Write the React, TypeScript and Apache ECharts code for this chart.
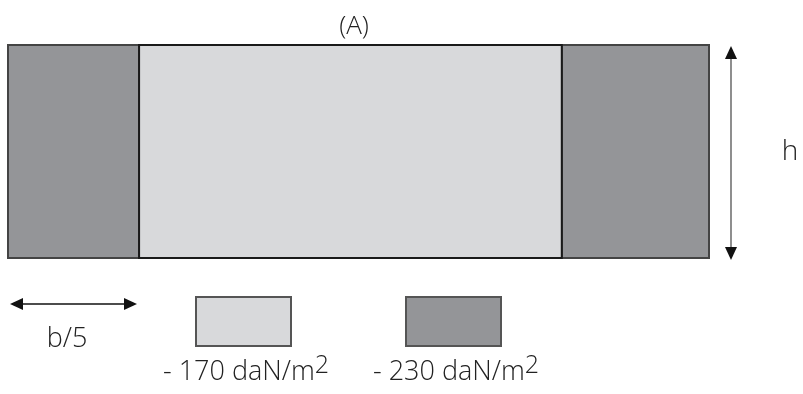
import React, { useEffect, useRef } from "react";
import * as echarts from "echarts";

// zones across width b (fraction of b), with load in daN/m2
const zoneStart = [0, 0.187, 0.79];
const zoneEnd = [0.187, 0.79, 1];
const zoneLoad = [230, 170, 230];
const legendLoads = [170, 230];
const title = "(A)";
const heightLabel = "h";
const widthLabel = "b/5";

const LIGHT = "#d8d9db";
const DARK = "#949598";

export default function App() {
  const ref = useRef<HTMLDivElement>(null);
  useEffect(() => {
    const chart = echarts.init(ref.current!, null, { renderer: "svg" });
    const fam = "'Open Sans', 'DejaVu Sans', sans-serif";
    const data = zoneStart.map((s, i) => [s, zoneEnd[i], zoneLoad[i]]);
    // draw dark ones first, light on top
    data.sort((a, b) => b[2] - a[2]);
    const arrowH = (x1: number, x2: number, y: number) => [
      { type: "line", shape: { x1: x1 + 10, y1: y, x2: x2 - 10, y2: y }, style: { stroke: "#111", lineWidth: 1.5 } },
      { type: "polygon", shape: { points: [[x1, y], [x1 + 13, y - 6], [x1 + 13, y + 6]] }, style: { fill: "#111" } },
      { type: "polygon", shape: { points: [[x2, y], [x2 - 13, y - 6], [x2 - 13, y + 6]] }, style: { fill: "#111" } },
    ];
    const arrowV = (x: number, y1: number, y2: number) => [
      { type: "line", shape: { x1: x, y1: y1 + 10, x2: x, y2: y2 - 10 }, style: { stroke: "#444", lineWidth: 1.2 } },
      { type: "polygon", shape: { points: [[x, y1], [x - 6, y1 + 13], [x + 6, y1 + 13]] }, style: { fill: "#111" } },
      { type: "polygon", shape: { points: [[x, y2], [x - 6, y2 - 13], [x + 6, y2 - 13]] }, style: { fill: "#111" } },
    ];
    const legendBoxes = [
      { x: 196, fill: LIGHT, load: legendLoads[0], tx: 163 },
      { x: 406, fill: DARK, load: legendLoads[1], tx: 373 },
    ];
    const textStyle = (size: number) => ({ fontSize: size, fontFamily: fam, fontWeight: 300, fill: "#222" });
    const legendEls: any[] = [];
    legendBoxes.forEach((l) => {
      legendEls.push({
        type: "rect",
        shape: { x: l.x, y: 297, width: 95, height: 49 },
        style: { fill: l.fill, stroke: "#555", lineWidth: 2 },
      });
      legendEls.push({
        type: "text",
        x: l.tx,
        y: 369,
        style: {
          text: "- " + l.load + " daN/m{sup|2}",
          ...textStyle(27),
          textAlign: "left",
          textVerticalAlign: "middle",
          rich: {
            sup: { ...textStyle(25), padding: [0, 0, 13, 0] },
          },
        },
      });
    });
    chart.setOption({
      animation: false,
      grid: { left: 8, top: 45, width: 701, height: 213 },
      xAxis: { type: "value", min: 0, max: 1, show: false },
      yAxis: { type: "value", min: 0, max: 1, show: false },
      series: [
        {
          type: "custom",
          data,
          renderItem: (params: any, api: any) => {
            const p1 = api.coord([api.value(0), 1]);
            const p2 = api.coord([api.value(1), 0]);
            const light = api.value(2) === 170;
            return {
              type: "rect",
              shape: { x: p1[0], y: p1[1], width: p2[0] - p1[0], height: p2[1] - p1[1] },
              style: { fill: light ? LIGHT : DARK, stroke: light ? "#1a1a1a" : "#444", lineWidth: 2 },
            };
          },
        },
      ],
      graphic: [
        { type: "text", x: 354, y: 24, style: { text: title, ...textStyle(26), textAlign: "center", textVerticalAlign: "middle" } },
        { type: "text", x: 790, y: 149, style: { text: heightLabel, ...textStyle(28), textAlign: "center", textVerticalAlign: "middle" } },
        { type: "text", x: 67, y: 336, style: { text: widthLabel, ...textStyle(27), textAlign: "center", textVerticalAlign: "middle" } },
        ...arrowH(10, 137, 304),
        ...arrowV(731, 46, 260),
        ...legendEls,
      ],
    });
    return () => chart.dispose();
  }, []);
  return <div ref={ref} style={{ position: "fixed", left: 0, top: 0, width: 803, height: 394 }} />;
}
